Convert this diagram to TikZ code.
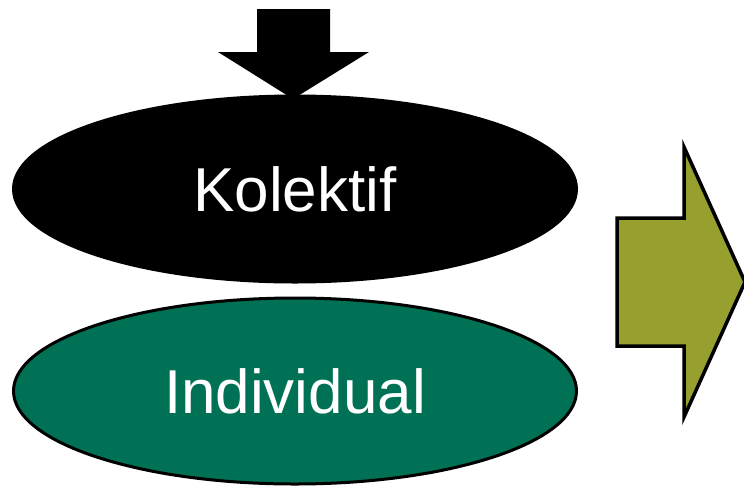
\documentclass[tikz,border=0pt]{standalone}
\usepackage{fontspec}
\setmainfont{Liberation Sans}
\usetikzlibrary{shapes.geometric}
\definecolor{olivearrow}{HTML}{97A02E}
\definecolor{darkgreen}{HTML}{007155}
\tikzset{
  blob/.style={ellipse, draw=black, line width=3pt, minimum width=563pt, minimum height=186pt, inner sep=0pt,
    text=white, font=\fontsize{62}{70}\selectfont},
}
\begin{document}
\begin{tikzpicture}[x=1pt,y=-1pt]
\useasboundingbox (0,0) rectangle (744,485);
\node[blob, fill=black] (kol) at (295,189) {Kolektif};
\node[blob, fill=darkgreen] (ind) at (295,391) {Individual};
% top arrow
\fill[black] (257,9) -- (330,9) -- (330,52) -- (369,52) -- (293,99) -- (218,52) -- (257,52) -- cycle;
% right arrow
\draw[fill=olivearrow, line width=3.5pt, line join=miter] (617,218) -- (684,218) -- (684,147) -- (745,282) -- (684,417) -- (684,346) -- (617,346) -- cycle;
\end{tikzpicture}
\end{document}
